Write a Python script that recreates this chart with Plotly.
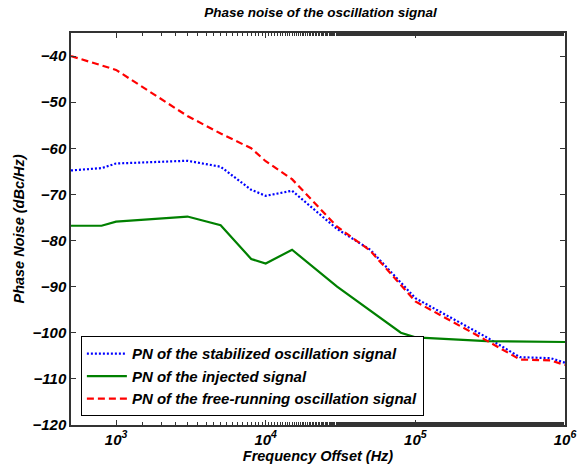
import plotly.graph_objects as go

freq_stab = [500, 800, 1000, 3000, 5000, 8000, 10000, 15000, 30000, 50000, 100000, 300000, 500000, 800000, 1000000]
pn_stab = [-64.8, -64.3, -63.3, -62.7, -64.0, -69.0, -70.3, -69.2, -77.5, -82.0, -92.5, -101.0, -105.3, -105.5, -106.5]

freq_inj = [500, 800, 1000, 3000, 5000, 8000, 10000, 15000, 30000, 80000, 100000, 300000, 1000000]
pn_inj = [-76.8, -76.8, -75.9, -74.8, -76.7, -84.0, -85.0, -82.0, -90.0, -100.0, -101.0, -101.8, -102.0]

freq_free = [500, 1000, 3000, 5000, 8000, 10000, 15000, 30000, 50000, 100000, 300000, 500000, 800000, 1000000]
pn_free = [-40.0, -43.0, -53.0, -56.8, -60.0, -62.8, -66.7, -77.0, -82.2, -93.2, -101.7, -105.8, -106.0, -107.0]

x_tickvals = [1e3, 1e4, 1e5, 1e6]
x_ticktext = ["10<sup>3</sup>", "10<sup>4</sup>", "10<sup>5</sup>", "10<sup>6</sup>"]

FONT = "Liberation Sans, Arial, sans-serif"

fig = go.Figure()
fig.add_trace(go.Scatter(x=freq_stab, y=pn_stab, mode="lines",
                         name="PN of the stabilized oscillation signal",
                         line=dict(color="#0000ff", width=2.2, dash="2px,2px")))
fig.add_trace(go.Scatter(x=freq_inj, y=pn_inj, mode="lines",
                         name="PN of the injected signal",
                         line=dict(color="#008000", width=2.2)))
fig.add_trace(go.Scatter(x=freq_free, y=pn_free, mode="lines",
                         name="PN of the free-running oscillation signal",
                         line=dict(color="#ff0000", width=2.2, dash="7px,4px")))

axis_font = dict(family=FONT, size=15, color="black", weight="bold", style="italic")
title_font = dict(family=FONT, size=14.5, color="black", weight="bold", style="italic")

fig.update_layout(
    width=588, height=474,
    margin=dict(l=71, r=17, t=33, b=49),
    paper_bgcolor="white", plot_bgcolor="white",
    title=dict(text="Phase noise of the oscillation signal", x=0.545, xanchor="center",
               y=0.985, yanchor="top",
               font=dict(family=FONT, size=13.5, color="black", weight="bold", style="italic")),
    legend=dict(x=0.02, y=0.022, xanchor="left", yanchor="bottom",
                bgcolor="white", bordercolor="black", borderwidth=1,
                font=dict(family=FONT, size=15, color="black", weight="bold", style="italic"),
                tracegroupgap=0, itemwidth=40),
    showlegend=True,
)

fig.update_xaxes(type="log", range=[2.69897, 6],
                 tickvals=x_tickvals, ticktext=x_ticktext,
                 ticks="inside", ticklen=5, tickcolor="#333",
                 minor=dict(ticks="inside", ticklen=3, tickcolor="#333", showgrid=False),
                 showline=True, linecolor="#333", linewidth=1.5, mirror="allticks",
                 showgrid=False, zeroline=False, tickfont=axis_font,
                 title=dict(text="Frequency Offset (Hz)", standoff=4, font=title_font))

fig.update_yaxes(range=[-120, -35], tick0=-120, dtick=10,
                 ticks="inside", ticklen=5, tickcolor="#333",
                 showline=True, linecolor="#333", linewidth=1.5, mirror="allticks",
                 showgrid=False, zeroline=False, tickfont=axis_font,
                 title=dict(text="Phase Noise (dBc/Hz)", standoff=4, font=title_font))

fig.write_html("out.html")
